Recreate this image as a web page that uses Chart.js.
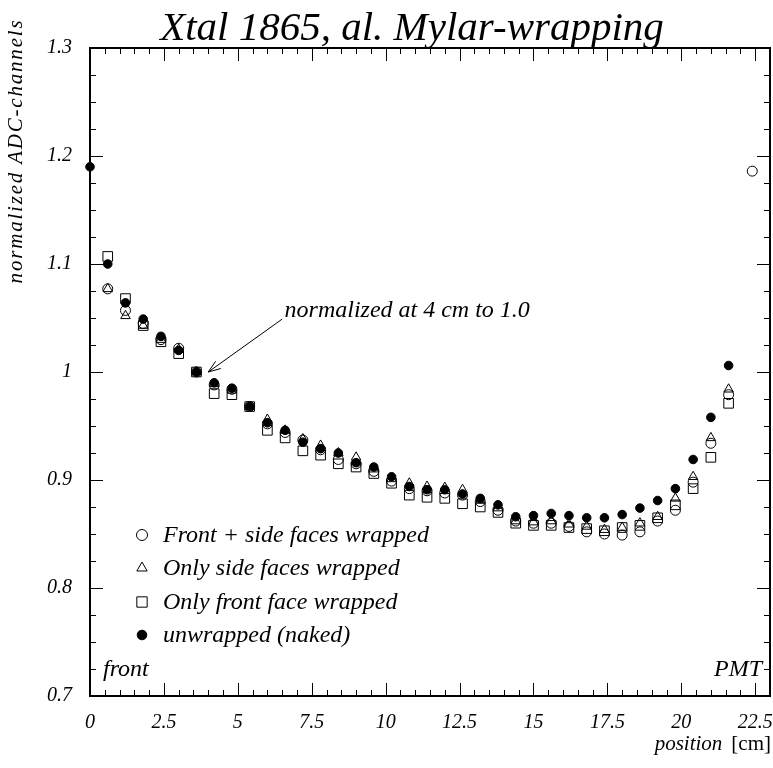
<!DOCTYPE html>
<html>
<head>
<meta charset="utf-8">
<script src="https://cdn.jsdelivr.net/npm/chart.js@4.4.1/dist/chart.umd.min.js"></script>
<style>
  html, body { margin: 0; padding: 0; background: #fff; }
  #wrap { width: 773px; height: 768px; }
</style>
</head>
<body>
<div id="wrap"><canvas id="chart" width="773" height="768"></canvas></div>
<script>
// positions along the crystal (cm)
const positions = [0, 0.6, 1.2, 1.8, 2.4, 3.0, 3.6, 4.2, 4.8, 5.4, 6.0, 6.6, 7.2, 7.8, 8.4, 9.0, 9.6, 10.2,
  10.8, 11.4, 12.0, 12.6, 13.2, 13.8, 14.4, 15.0, 15.6, 16.2, 16.8, 17.4, 18.0, 18.6, 19.2, 19.8, 20.4, 21.0, 21.6, 22.4];

// Front + side faces wrapped (open circle)
const frontSide = [null, 1.077, 1.057, 1.045, 1.030, 1.022, 1.000, 0.988, 0.984, 0.968, 0.952, 0.944, 0.937, 0.928,
  0.919, 0.915, 0.908, 0.899, 0.892, 0.890, 0.888, 0.886, 0.880, 0.872, 0.862, 0.860, 0.860, 0.857, 0.852, 0.850,
  0.849, 0.852, 0.862, 0.872, 0.898, 0.934, 0.979, 1.186];
// Only side faces wrapped (open triangle)
const sideOnly = [null, 1.077, 1.052, 1.043, 1.030, 1.021, 1.000, 0.989, 0.983, 0.968, 0.956, 0.946, 0.938, 0.932,
  0.925, 0.921, 0.910, 0.901, 0.897, 0.894, 0.893, 0.891, 0.881, 0.874, 0.862, 0.861, 0.862, 0.859, 0.857, 0.854,
  0.856, 0.860, 0.866, 0.883, 0.903, 0.939, 0.984, null];
// Only front face wrapped (open square)
const frontOnly = [null, 1.107, 1.068, 1.043, 1.028, 1.017, 1.000, 0.980, 0.979, 0.968, 0.946, 0.939, 0.927, 0.923,
  0.915, 0.912, 0.906, 0.897, 0.886, 0.884, 0.883, 0.878, 0.875, 0.870, 0.860, 0.858, 0.858, 0.856, 0.855, 0.853,
  0.856, 0.858, 0.865, 0.877, 0.892, 0.921, 0.971, null];
// unwrapped (naked) (filled circle)
const naked = [1.19, 1.100, 1.064, 1.049, 1.033, 1.020, 1.000, 0.990, 0.985, 0.968, 0.953, 0.946, 0.935, 0.929,
  0.925, 0.916, 0.912, 0.903, 0.894, 0.891, 0.891, 0.887, 0.883, 0.877, 0.866, 0.867, 0.869, 0.867, 0.865, 0.865,
  0.868, 0.874, 0.881, 0.892, 0.919, 0.958, 1.006, null];

const seriesNames = ['Front + side faces wrapped', 'Only side faces wrapped', 'Only front face wrapped', 'unwrapped (naked)'];
const xTicks = [0, 2.5, 5, 7.5, 10, 12.5, 15, 17.5, 20, 22.5];
const xTickLabels = ['0', '2.5', '5', '7.5', '10', '12.5', '15', '17.5', '20', '22.5'];
const yTicks = [0.7, 0.8, 0.9, 1.0, 1.1, 1.2, 1.3];
const yTickLabels = ['0.7', '0.8', '0.9', '1', '1.1', '1.2', '1.3'];

const SERIF = '"Liberation Serif", "DejaVu Serif", serif';

function pts(vals) {
  return positions.map((x, i) => ({ x, y: vals[i] })).filter(p => p.y !== null);
}

const styles = [
  { pointStyle: 'circle', radius: 5, fill: 'rgba(0,0,0,0)' },
  { pointStyle: 'triangle', radius: 5.5, fill: 'rgba(0,0,0,0)' },
  { pointStyle: 'rect', radius: 6.8, fill: 'rgba(0,0,0,0)' },
  { pointStyle: 'circle', radius: 4.3, fill: '#000' }
];

const datasets = [frontSide, sideOnly, frontOnly, naked].map((vals, i) => ({
  label: seriesNames[i],
  data: pts(vals),
  pointStyle: styles[i].pointStyle,
  pointRadius: styles[i].radius,
  pointBorderColor: '#000',
  pointBackgroundColor: styles[i].fill,
  pointBorderWidth: 1,
  showLine: false,
  clip: false
}));

// frame, inward ticks, title, axis titles, legend and annotation
const decor = {
  id: 'decor',
  afterDraw(chart) {
    const ctx = chart.ctx;
    const a = chart.chartArea;
    const xs = chart.scales.x, ys = chart.scales.y;
    ctx.save();
    ctx.strokeStyle = '#000';

    // ticks
    ctx.lineWidth = 1;
    ctx.beginPath();
    for (let v = 0; v <= 23.0001; v += 0.5) {
      const px = Math.round(xs.getPixelForValue(v)) + 0.5;
      const major = Math.abs(v / 2.5 - Math.round(v / 2.5)) < 1e-6;
      const len = major ? 13 : 6;
      ctx.moveTo(px, a.bottom); ctx.lineTo(px, a.bottom - len);
      ctx.moveTo(px, a.top); ctx.lineTo(px, a.top + len);
    }
    for (let k = 0; k <= 24; k++) {
      const v = 0.7 + k * 0.025;
      const py = Math.round(ys.getPixelForValue(v)) + 0.5;
      const len = k % 4 === 0 ? 13 : 6;
      ctx.moveTo(a.left, py); ctx.lineTo(a.left + len, py);
      ctx.moveTo(a.right, py); ctx.lineTo(a.right - len, py);
    }
    ctx.stroke();

    // frame
    ctx.lineWidth = 2;
    ctx.strokeRect(a.left, a.top, a.right - a.left, a.bottom - a.top);

    ctx.fillStyle = '#000';
    // title
    ctx.font = 'italic 41px ' + SERIF;
    ctx.textAlign = 'center';
    ctx.textBaseline = 'alphabetic';
    ctx.fillText('Xtal 1865, al. Mylar-wrapping', 412, 40);

    // y axis title
    ctx.save();
    ctx.translate(16, 151);
    ctx.rotate(-Math.PI / 2);
    ctx.font = 'italic 21px ' + SERIF;
    ctx.letterSpacing = '1.8px';
    ctx.textAlign = 'center';
    ctx.textBaseline = 'middle';
    ctx.fillText('normalized ADC-channels', 0, 0);
    ctx.restore();

    // x axis title
    ctx.textBaseline = 'alphabetic';
    ctx.textAlign = 'right';
    ctx.font = '21px ' + SERIF;
    const cmW = ctx.measureText('[cm]').width;
    ctx.fillText('[cm]', 771, 750);
    ctx.font = 'italic 21px ' + SERIF;
    ctx.fillText('position', 771 - cmW - 9, 750);

    // front / PMT
    ctx.font = 'italic 24px ' + SERIF;
    ctx.textAlign = 'left';
    ctx.fillText('front', a.left + 13, 676);
    ctx.textAlign = 'right';
    ctx.fillText('PMT', a.right - 8, 676);

    // annotation
    ctx.textAlign = 'left';
    ctx.fillText('normalized at 4 cm to 1.0', xs.getPixelForValue(6.58), ys.getPixelForValue(1.051));
    const tx = xs.getPixelForValue(4.0), ty = ys.getPixelForValue(1.0);
    const sx = xs.getPixelForValue(6.5), sy = ys.getPixelForValue(1.049);
    const ang = Math.atan2(ty - sy, tx - sx);
    ctx.lineWidth = 1;
    ctx.beginPath();
    ctx.moveTo(sx, sy); ctx.lineTo(tx, ty);
    ctx.moveTo(tx - 13 * Math.cos(ang - 0.35), ty - 13 * Math.sin(ang - 0.35));
    ctx.lineTo(tx, ty);
    ctx.lineTo(tx - 13 * Math.cos(ang + 0.35), ty - 13 * Math.sin(ang + 0.35));
    ctx.stroke();

    // legend
    const rows = [535, 568, 602, 635];
    ctx.font = 'italic 24px ' + SERIF;
    ctx.textAlign = 'left';
    ctx.textBaseline = 'middle';
    rows.forEach((ry, i) => {
      const st = styles[i];
      ctx.fillStyle = st.fill;
      ctx.strokeStyle = '#000';
      ctx.lineWidth = 1;
      Chart.helpers.drawPoint(ctx, { pointStyle: st.pointStyle, radius: st.radius + 0.5, borderWidth: 1, rotation: 0 }, 142, ry);
      ctx.fillStyle = '#000';
      ctx.fillText(seriesNames[i], 163, ry + 1);
    });
    ctx.restore();
  }
};

new Chart(document.getElementById('chart'), {
  type: 'scatter',
  data: { datasets },
  options: {
    responsive: false,
    animation: false,
    layout: { autoPadding: false, padding: { left: 0, right: 3, top: 48, bottom: 0 } },
    plugins: { legend: { display: false }, tooltip: { enabled: false } },
    scales: {
      x: {
        type: 'linear', min: 0, max: 23,
        afterBuildTicks: s => { s.ticks = xTicks.map(v => ({ value: v })); },
        afterFit: s => { s.height = 72; s.paddingLeft = 0; s.paddingRight = 0; },
        grid: { display: false, drawTicks: false },
        border: { display: false },
        ticks: {
          padding: 15, color: '#000', maxRotation: 0, autoSkip: false,
          font: { family: SERIF, style: 'italic', size: 20 },
          callback: v => xTickLabels[xTicks.indexOf(v)]
        }
      },
      y: {
        type: 'linear', min: 0.7, max: 1.3,
        afterBuildTicks: s => { s.ticks = yTicks.map(v => ({ value: v })); },
        afterFit: s => { s.width = 90; s.paddingTop = 0; s.paddingBottom = 0; },
        grid: { display: false, drawTicks: false },
        border: { display: false },
        ticks: {
          padding: 18, color: '#000', autoSkip: false,
          font: { family: SERIF, style: 'italic', size: 20 },
          callback: v => yTickLabels[yTicks.findIndex(t => Math.abs(t - v) < 1e-9)]
        }
      }
    }
  },
  plugins: [decor]
});
</script>
</body>
</html>
